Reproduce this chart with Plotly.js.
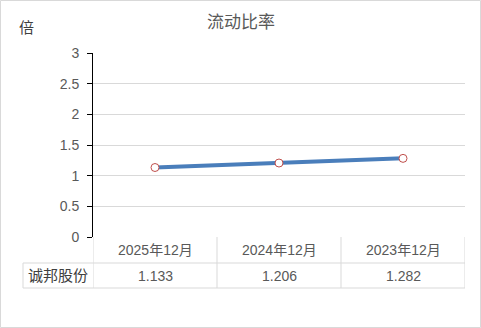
<!DOCTYPE html>
<html><head><meta charset="utf-8">
<script src="https://cdn.plot.ly/plotly-3.0.1.min.js"></script>
<style>html,body{margin:0;padding:0;background:#fff}#c{width:481px;height:328px}</style>
</head><body><div id="c"></div>
<script>
const categories = ["2025年12月", "2024年12月", "2023年12月"];
const seriesName = "诚邦股份";
const values = [1.133, 1.206, 1.282];
const valueLabels = ["1.133", "1.206", "1.282"];
const chartTitle = "流动比率";
const unitLabel = "倍";

const W = 481, H = 328, L = 93, R = 16, T = 53, B = 91;
const pw = W - L - R, ph = H - T - B;
const px = x => (x - L) / pw;
const py = y => (H - B - y) / ph;
const grid = "#d9d9d9";
const txt = "#595959";
const font = "Liberation Sans, Noto Sans CJK SC, sans-serif";
const idx = categories.map((_, i) => i);

const shapes = [];
shapes.push({type:"rect", xref:"paper", yref:"paper", x0:px(0.5), x1:px(W-0.5), y0:py(H-0.5), y1:py(0.5), line:{color:grid, width:1}});
shapes.push({type:"line", xref:"paper", yref:"paper", x0:px(23), x1:1, y0:py(263), y1:py(263), line:{color:grid, width:1}});
shapes.push({type:"line", xref:"paper", yref:"paper", x0:px(23), x1:1, y0:py(288), y1:py(288), line:{color:grid, width:1}});
shapes.push({type:"line", xref:"paper", yref:"paper", x0:px(23), x1:px(23), y0:py(263), y1:py(288), line:{color:grid, width:1}});
for (let i = 0; i <= categories.length; i++) {
  shapes.push({type:"line", xref:"x", yref:"paper", x0:i-0.5, x1:i-0.5, y0:0, y1:py(288), line:{color:grid, width:1}});
}

const ann = (o) => Object.assign({showarrow:false, xanchor:"center", yanchor:"middle"}, o);
const annotations = [];
categories.forEach((c, i) => annotations.push(ann({xref:"x", yref:"paper", x:i, y:py(250), text:c, font:{size:14, color:txt, family:font}})));
valueLabels.forEach((v, i) => annotations.push(ann({xref:"x", yref:"paper", x:i, y:py(275.5), text:v, font:{size:14, color:txt, family:font}})));
annotations.push(ann({xref:"paper", yref:"paper", x:px(58), y:py(275.5), text:seriesName, font:{size:15, color:"#404040", family:font}}));
annotations.push(ann({xref:"paper", yref:"paper", x:px(26), y:py(28), text:unitLabel, font:{size:15, color:"#404040", family:font}}));
annotations.push(ann({xref:"paper", yref:"paper", x:px(240.5), y:py(22), text:chartTitle, font:{size:17, color:txt, family:font}}));

Plotly.newPlot("c", [{
  x: idx, y: values, type:"scatter", mode:"lines+markers", name: seriesName,
  line:{color:"#4a7ebb", width:4},
  marker:{size:8, color:"#ffffff", line:{color:"#c0504d", width:1}},
  cliponaxis:false, hoverinfo:"none"
}], {
  width:W, height:H, margin:{l:L, r:R, t:T, b:B},
  paper_bgcolor:"#fff", plot_bgcolor:"#fff", showlegend:false,
  xaxis:{range:[-0.5, categories.length-0.5], showgrid:false, zeroline:false, showticklabels:false, showline:false, ticks:"", fixedrange:true},
  yaxis:{range:[0,3], dtick:0.5, tick0:0, showgrid:true, gridcolor:grid, gridwidth:1, zeroline:false,
         showline:true, linecolor:"#000", linewidth:1, ticks:"outside", ticklen:5, tickcolor:"#000",
         ticklabelstandoff:5,
         tickfont:{size:14, color:txt, family:font}, fixedrange:true},
  shapes, annotations
}, {displayModeBar:false, staticPlot:true});
</script></body></html>
